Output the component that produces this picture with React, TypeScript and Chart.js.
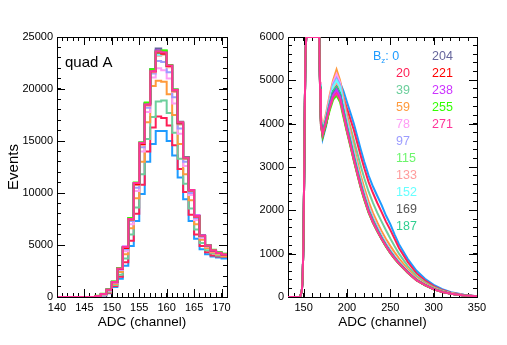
import React, { useEffect, useRef } from "react";
import { Chart, registerables } from "chart.js";
Chart.register(...registerables);

// ---------- data ----------
const B_FIELDS = ["0", "20", "39", "59", "78", "97", "115", "133", "152", "169", "187", "204", "221", "238", "255", "271"];
const COLORS = ["#1e9bff", "#ff1f55", "#6ccf9c", "#ff9a3c", "#ff9cf5", "#9c9cff", "#6cf56c", "#ff9c9c", "#66ffff", "#555555", "#2ecf90", "#66669c", "#ff0000", "#cc33ff", "#33ff00", "#ff3399"];

// left panel: histogram bins (lower edge, width 1 channel)
const LEFT_BINS = [140, 141, 142, 143, 144, 145, 146, 147, 148, 149, 150, 151, 152, 153, 154, 155, 156, 157, 158, 159, 160, 161, 162, 163, 164, 165, 166, 167, 168, 169, 170];
const L_0 = [0, 0, 0, 0, 0, 0, 0, 50, 150, 350, 950, 1750, 3000, 4900, 7300, 9900, 13000, 14700, 15950, 15950, 15000, 13600, 11500, 9400, 7300, 5600, 4600, 4100, 3900, 3800, 3700];
const L_20 = [0, 0, 0, 0, 0, 0, 0, 60, 180, 420, 1050, 1950, 3350, 5400, 8000, 10800, 14000, 16300, 17350, 17200, 16500, 14600, 12300, 10100, 7900, 6000, 4900, 4300, 4000, 3900, 3850];
const L_39 = [0, 0, 0, 0, 0, 0, 0, 70, 200, 480, 1150, 2150, 3700, 6000, 8600, 11800, 15200, 17300, 18800, 18900, 17700, 15800, 13300, 10900, 8500, 6500, 5200, 4500, 4200, 4000, 3900];
const L_59 = [0, 0, 0, 0, 0, 0, 0, 80, 230, 540, 1250, 2400, 4100, 6600, 9500, 13000, 16800, 20300, 20800, 20700, 19500, 17500, 14700, 11800, 9300, 7000, 5500, 4700, 4300, 4100, 3950];
const L_78 = [0, 0, 0, 0, 0, 0, 0, 90, 260, 600, 1350, 2600, 4400, 7000, 10200, 14000, 17800, 21100, 22000, 21800, 21000, 18600, 15700, 12600, 9800, 7400, 5700, 4850, 4400, 4200, 4050];
const L_97 = [0, 0, 0, 0, 0, 0, 0, 90, 270, 630, 1400, 2650, 4600, 7300, 10500, 14400, 18200, 21500, 22700, 22600, 21600, 19200, 16200, 13000, 10000, 7600, 5800, 4900, 4450, 4220, 4080];
const L_115 = [0, 0, 0, 0, 0, 0, 0, 100, 290, 680, 1500, 2750, 4700, 7450, 10800, 14700, 18500, 21700, 23400, 23700, 22200, 19800, 16600, 13300, 10200, 7800, 5900, 4950, 4500, 4300, 4150];
const L_133 = [0, 0, 0, 0, 0, 0, 0, 100, 290, 680, 1480, 2720, 4700, 7400, 10800, 14600, 18400, 21600, 23200, 23300, 22100, 19700, 16600, 13300, 10200, 7750, 5850, 4900, 4480, 4250, 4100];
const L_152 = [0, 0, 0, 0, 0, 0, 0, 100, 290, 690, 1470, 2740, 4750, 7450, 10900, 14700, 18500, 21800, 23300, 23400, 22300, 19850, 16700, 13350, 10250, 7800, 5880, 4930, 4500, 4250, 4100];
const L_169 = [0, 0, 0, 0, 0, 0, 0, 100, 300, 700, 1440, 2740, 4780, 7500, 10900, 14800, 18600, 21800, 23700, 23500, 22200, 19900, 16700, 13450, 10300, 7800, 5900, 4950, 4500, 4250, 4100];
const L_187 = [0, 0, 0, 0, 0, 0, 0, 100, 300, 700, 1450, 2760, 4780, 7520, 10950, 14780, 18600, 21850, 23600, 23500, 22300, 19900, 16750, 13400, 10300, 7800, 5900, 4950, 4500, 4250, 4100];
const L_204 = [0, 0, 0, 0, 0, 0, 0, 100, 300, 700, 1450, 2760, 4800, 7550, 10950, 14850, 18650, 21900, 23900, 23600, 22300, 19950, 16850, 13450, 10300, 7800, 5900, 4950, 4500, 4250, 4100];
const L_221 = [0, 0, 0, 0, 0, 0, 0, 100, 300, 700, 1430, 2700, 4700, 7450, 10850, 14700, 18500, 21700, 23500, 23400, 22200, 19850, 16700, 13350, 10250, 7750, 5880, 4930, 4480, 4230, 4080];
const L_238 = [0, 0, 0, 0, 0, 0, 0, 100, 300, 700, 1450, 2750, 4850, 7550, 10950, 14800, 18600, 21850, 23700, 23550, 22300, 19900, 16800, 13400, 10300, 7850, 5950, 4950, 4500, 4250, 4100];
const L_255 = [0, 0, 0, 0, 0, 0, 0, 110, 310, 720, 1500, 2780, 4800, 7600, 11000, 14850, 18700, 21900, 23600, 23700, 22300, 19950, 16800, 13400, 10300, 7800, 5900, 4950, 4550, 4300, 4150];
const L_271 = [0, 0, 0, 0, 0, 0, 0, 100, 300, 700, 1450, 2750, 4800, 7500, 10950, 14800, 18500, 21700, 23600, 23500, 22250, 19900, 16800, 13400, 10300, 7800, 5900, 4950, 4500, 4250, 4100];
const LEFT_SERIES = [L_0, L_20, L_39, L_59, L_78, L_97, L_115, L_133, L_152, L_169, L_187, L_204, L_221, L_238, L_255, L_271];

// right panel: ADC channel sample points
const RIGHT_X = [132, 140, 146, 148, 149, 150, 151, 152, 153, 160, 168, 169, 170, 172, 176, 180, 184, 188, 192, 196, 200, 204, 208, 212, 216, 220, 225, 230, 235, 240, 245, 250, 255, 260, 270, 280, 290, 300, 310, 320, 335, 350];
const R_0 = [0, 0, 0, 150, 500, 1500, 3500, 5500, 6000, 6000, 6000, 4900, 4100, 3650, 3950, 4400, 4800, 5050, 4950, 4750, 4500, 4250, 4000, 3700, 3400, 3120, 2800, 2550, 2330, 2120, 1880, 1680, 1440, 1220, 880, 610, 420, 280, 180, 110, 50, 15];
const R_20 = [0, 0, 0, 150, 500, 1500, 3500, 5500, 6000, 6000, 6000, 4850, 4050, 3750, 4000, 4350, 4650, 4850, 4800, 4600, 4350, 4100, 3850, 3550, 3250, 2970, 2650, 2400, 2170, 1960, 1740, 1550, 1340, 1130, 810, 550, 380, 250, 160, 100, 45, 15];
const R_39 = [0, 0, 0, 150, 500, 1500, 3500, 5500, 6000, 6000, 6000, 4850, 4100, 3800, 4100, 4450, 4750, 4900, 4800, 4500, 4200, 3920, 3620, 3320, 3020, 2740, 2430, 2170, 1940, 1740, 1540, 1350, 1170, 1000, 720, 490, 340, 225, 145, 90, 42, 15];
const R_59 = [0, 0, 0, 150, 500, 1500, 3500, 5500, 6000, 6000, 6000, 4950, 4200, 3900, 4250, 4650, 5000, 5250, 5000, 4600, 4200, 3850, 3480, 3130, 2800, 2520, 2200, 1940, 1720, 1520, 1340, 1180, 1030, 890, 650, 450, 315, 210, 135, 85, 40, 15];
const R_78 = [0, 0, 0, 150, 500, 1500, 3500, 5500, 6000, 6000, 6000, 4950, 4150, 3850, 4200, 4600, 4950, 5150, 4950, 4500, 4100, 3750, 3380, 3030, 2700, 2420, 2100, 1850, 1630, 1430, 1250, 1090, 950, 820, 600, 420, 290, 195, 125, 80, 38, 15];
const R_97 = [0, 0, 0, 150, 500, 1500, 3500, 5500, 6000, 6000, 6000, 4900, 4100, 3850, 4150, 4550, 4900, 5050, 4900, 4450, 4050, 3700, 3330, 2980, 2660, 2380, 2060, 1810, 1600, 1400, 1220, 1070, 930, 800, 590, 410, 285, 190, 122, 78, 37, 15];
const R_115 = [0, 0, 0, 150, 500, 1500, 3500, 5500, 6000, 6000, 6000, 4850, 4050, 3800, 4100, 4450, 4750, 4900, 4750, 4350, 3950, 3600, 3250, 2910, 2600, 2320, 2010, 1770, 1560, 1370, 1200, 1050, 910, 790, 580, 400, 280, 185, 120, 76, 36, 15];
const R_133 = [0, 0, 0, 150, 500, 1500, 3500, 5500, 6000, 6000, 6000, 4900, 4100, 3850, 4150, 4500, 4800, 4950, 4800, 4400, 4000, 3650, 3290, 2950, 2630, 2350, 2040, 1790, 1580, 1390, 1210, 1060, 920, 800, 585, 405, 282, 188, 121, 77, 37, 15];
const R_152 = [0, 0, 0, 150, 500, 1500, 3500, 5500, 6000, 6000, 6000, 4900, 4100, 3850, 4150, 4500, 4850, 5000, 4850, 4420, 4020, 3670, 3310, 2970, 2650, 2370, 2050, 1800, 1590, 1400, 1220, 1070, 930, 805, 590, 408, 284, 189, 122, 78, 37, 15];
const R_169 = [0, 0, 0, 150, 500, 1500, 3500, 5500, 6000, 6000, 6000, 4850, 4050, 3800, 4100, 4450, 4750, 4850, 4700, 4300, 3920, 3580, 3230, 2900, 2590, 2310, 2000, 1760, 1550, 1360, 1190, 1040, 905, 785, 575, 398, 278, 184, 119, 75, 36, 15];
const R_187 = [0, 0, 0, 150, 500, 1500, 3500, 5500, 6000, 6000, 6000, 4850, 4050, 3800, 4100, 4450, 4750, 4850, 4700, 4320, 3940, 3600, 3250, 2920, 2600, 2320, 2010, 1770, 1560, 1370, 1200, 1050, 910, 790, 580, 400, 280, 185, 120, 76, 36, 15];
const R_204 = [0, 0, 0, 150, 500, 1500, 3500, 5500, 6000, 6000, 6000, 4800, 4000, 3750, 4050, 4400, 4700, 4800, 4650, 4250, 3880, 3540, 3200, 2870, 2560, 2290, 1980, 1740, 1540, 1350, 1180, 1030, 895, 775, 570, 395, 275, 183, 118, 74, 35, 15];
const R_221 = [0, 0, 0, 150, 500, 1500, 3500, 5500, 6000, 6000, 6000, 4800, 4000, 3700, 4000, 4350, 4600, 4720, 4580, 4200, 3830, 3500, 3160, 2840, 2530, 2260, 1960, 1720, 1520, 1340, 1170, 1020, 885, 770, 565, 390, 272, 180, 116, 73, 35, 15];
const R_238 = [0, 0, 0, 150, 500, 1500, 3500, 5500, 6000, 6000, 6000, 4800, 4000, 3750, 4050, 4400, 4650, 4780, 4620, 4230, 3860, 3520, 3180, 2860, 2550, 2280, 1970, 1730, 1530, 1345, 1175, 1025, 890, 772, 568, 392, 274, 182, 117, 74, 35, 15];
const R_255 = [0, 0, 0, 150, 500, 1500, 3500, 5500, 6000, 6000, 6000, 4800, 3950, 3700, 4000, 4300, 4550, 4650, 4500, 4150, 3800, 3470, 3140, 2820, 2510, 2240, 1940, 1710, 1510, 1330, 1160, 1010, 880, 765, 560, 388, 270, 179, 115, 72, 34, 15];
const R_271 = [0, 0, 0, 150, 500, 1500, 3500, 5500, 6000, 6000, 6000, 4800, 3950, 3750, 4050, 4350, 4600, 4700, 4550, 4200, 3830, 3500, 3160, 2840, 2530, 2260, 1960, 1720, 1520, 1340, 1170, 1020, 885, 770, 565, 390, 272, 180, 116, 73, 35, 15];
const RIGHT_SERIES = [R_0, R_20, R_39, R_59, R_78, R_97, R_115, R_133, R_152, R_169, R_187, R_204, R_221, R_238, R_255, R_271];

const FONT = "'Liberation Sans', Arial, Helvetica, sans-serif";

// ---------- longer inward major ticks, drawn through the scales ----------
function majorTicks(chart: any, xMajor: number, yMajor: number) {
  const ctx = chart.ctx;
  const a = chart.chartArea;
  const xs = chart.scales.x;
  const ys = chart.scales.y;
  ctx.save();
  ctx.fillStyle = "#000000";
  let n = Math.ceil(xs.min / xMajor - 1e-9);
  while (n * xMajor <= xs.max + 1e-9) {
    const px = Math.round(xs.getPixelForValue(n * xMajor));
    ctx.fillRect(px, a.bottom - 8, 1, 8);
    ctx.fillRect(px, a.top, 1, 8);
    n += 1;
  }
  let m = Math.ceil(ys.min / yMajor - 1e-9);
  while (m * yMajor <= ys.max + 1e-9) {
    const py = Math.round(ys.getPixelForValue(m * yMajor));
    ctx.fillRect(a.left, py, 8, 1);
    ctx.fillRect(a.right - 8, py, 8, 1);
    m += 1;
  }
  ctx.restore();
}

const leftDecor = {
  id: "leftDecor",
  afterDraw(chart: any) {
    majorTicks(chart, 5, 5000);
    const ctx = chart.ctx;
    const a = chart.chartArea;
    ctx.save();
    ctx.fillStyle = "#000";
    ctx.font = "15px " + FONT;
    ctx.textBaseline = "alphabetic";
    ctx.textAlign = "left";
    ctx.fillText("quad A", a.left + 8, a.top + 30);
    ctx.restore();
  },
};

const rightDecor = {
  id: "rightDecor",
  afterDraw(chart: any) {
    majorTicks(chart, 50, 1000);
    const ctx = chart.ctx;
    const a = chart.chartArea;
    const col1 = a.left + 108;
    const col2 = a.left + 144;
    const top = a.top + 20;
    const rowH = 17;
    ctx.save();
    ctx.textBaseline = "middle";
    ctx.textAlign = "left";
    B_FIELDS.forEach((b, i) => {
      ctx.fillStyle = COLORS[i];
      if (i === 0) {
        let cx = col1 - 23;
        ctx.font = "12.5px " + FONT;
        ctx.fillText("B", cx, top);
        cx += ctx.measureText("B").width;
        ctx.font = "8px " + FONT;
        ctx.fillText("z", cx, top + 4);
        cx += ctx.measureText("z").width;
        ctx.font = "12.5px " + FONT;
        ctx.fillText(": 0", cx, top);
        return;
      }
      const inFirst = i <= 10;
      const row = inFirst ? i : i - 11;
      ctx.font = "12.5px " + FONT;
      ctx.fillText(b, inFirst ? col1 : col2, top + row * rowH);
    });
    ctx.restore();
  },
};

function makeOptions(cfg: { xmin: number; xmax: number; xminor: number; xmajor: number; ymax: number; yminor: number; ymajor: number; yWidth: number; padRight: number; yTitle: string | null }) {
  const onlyMajor = (m: number) => (v: any) => (Math.abs(Number(v) % m) < 1e-6 ? String(v) : "");
  const tickGrid = { display: true, drawOnChartArea: false, drawTicks: true, tickLength: -4, color: "#000", tickColor: "#000", lineWidth: 1 };
  const frameBorder = { display: true, color: "#000", width: 1 };
  return {
    animation: false,
    responsive: false,
    maintainAspectRatio: false,
    devicePixelRatio: 1,
    layout: { padding: { top: 37, right: cfg.padRight, left: 0, bottom: 0 } },
    plugins: { legend: { display: false }, tooltip: { enabled: false }, title: { display: false } },
    elements: { point: { radius: 0 } },
    scales: {
      x: {
        type: "linear",
        position: "bottom",
        min: cfg.xmin,
        max: cfg.xmax,
        grid: tickGrid,
        border: frameBorder,
        ticks: { stepSize: cfg.xminor, includeBounds: false, autoSkip: false, maxRotation: 0, padding: 8, color: "#000", font: { family: FONT, size: 11 }, callback: onlyMajor(cfg.xmajor) },
        title: { display: true, text: "ADC (channel)", color: "#000", font: { family: FONT, size: 13.5 }, padding: { top: 0, bottom: 15 } },
        afterFit: (s: any) => {
          s.height = 48;
        },
      },
      x2: {
        type: "linear",
        position: "top",
        min: cfg.xmin,
        max: cfg.xmax,
        grid: tickGrid,
        border: frameBorder,
        ticks: { display: false, stepSize: cfg.xminor, includeBounds: false, autoSkip: false },
        afterFit: (s: any) => {
          s.height = 0;
        },
      },
      y: {
        type: "linear",
        position: "left",
        min: 0,
        max: cfg.ymax,
        grid: tickGrid,
        border: frameBorder,
        ticks: { stepSize: cfg.yminor, includeBounds: false, autoSkip: false, padding: 8, color: "#000", font: { family: FONT, size: 11 }, callback: onlyMajor(cfg.ymajor) },
        title: cfg.yTitle
          ? { display: true, text: cfg.yTitle, color: "#000", font: { family: FONT, size: 15 }, padding: { top: 5, bottom: 0 } }
          : { display: false },
        afterFit: (s: any) => {
          s.width = cfg.yWidth;
        },
      },
      y2: {
        type: "linear",
        position: "right",
        min: 0,
        max: cfg.ymax,
        grid: tickGrid,
        border: frameBorder,
        ticks: { display: false, stepSize: cfg.yminor, includeBounds: false, autoSkip: false },
        afterFit: (s: any) => {
          s.width = 0;
        },
      },
    },
  };
}

export default function App() {
  const leftRef = useRef<HTMLCanvasElement>(null);
  const rightRef = useRef<HTMLCanvasElement>(null);

  useEffect(() => {
    const lastBin = LEFT_BINS[LEFT_BINS.length - 1];
    const binWidth = LEFT_BINS[1] - LEFT_BINS[0];
    const leftChart = new Chart(leftRef.current as HTMLCanvasElement, {
      type: "line",
      data: {
        datasets: LEFT_SERIES.map((vals, i) => ({
          label: "Bz " + B_FIELDS[i],
          data: [...LEFT_BINS.map((b, j) => ({ x: b, y: vals[j] })), { x: lastBin + binWidth, y: vals[vals.length - 1] }],
          xAxisID: "x",
          yAxisID: "y",
          borderColor: COLORS[i],
          backgroundColor: COLORS[i],
          borderWidth: 2,
          stepped: "before",
          pointRadius: 0,
          fill: false,
          order: LEFT_SERIES.length - 1 - i,
        })),
      },
      options: makeOptions({ xmin: 140, xmax: 171, xminor: 1, xmajor: 5, ymax: 25000, yminor: 1000, ymajor: 5000, yWidth: 57, padRight: 13, yTitle: "Events" }) as any,
      plugins: [leftDecor as any],
    });

    const rightChart = new Chart(rightRef.current as HTMLCanvasElement, {
      type: "line",
      data: {
        datasets: RIGHT_SERIES.map((vals, i) => ({
          label: "Bz " + B_FIELDS[i],
          data: RIGHT_X.map((x, j) => ({ x, y: vals[j] })),
          xAxisID: "x",
          yAxisID: "y",
          borderColor: COLORS[i],
          backgroundColor: COLORS[i],
          borderWidth: 2,
          pointRadius: 0,
          fill: false,
          order: RIGHT_SERIES.length - 1 - i,
        })),
      },
      options: makeOptions({ xmin: 132, xmax: 350, xminor: 10, xmajor: 50, ymax: 6000, yminor: 200, ymajor: 1000, yWidth: 48, padRight: 30, yTitle: null }) as any,
      plugins: [rightDecor as any],
    });

    return () => {
      leftChart.destroy();
      rightChart.destroy();
    };
  }, []);

  return (
    <div style={{ position: "absolute", left: 0, top: 0, width: 507, height: 345, background: "#fff", overflow: "hidden" }}>
      <canvas ref={leftRef} width={240} height={345} style={{ position: "absolute", left: 0, top: 0, width: 240, height: 345 }} />
      <canvas ref={rightRef} width={267} height={345} style={{ position: "absolute", left: 240, top: 0, width: 267, height: 345 }} />
    </div>
  );
}
